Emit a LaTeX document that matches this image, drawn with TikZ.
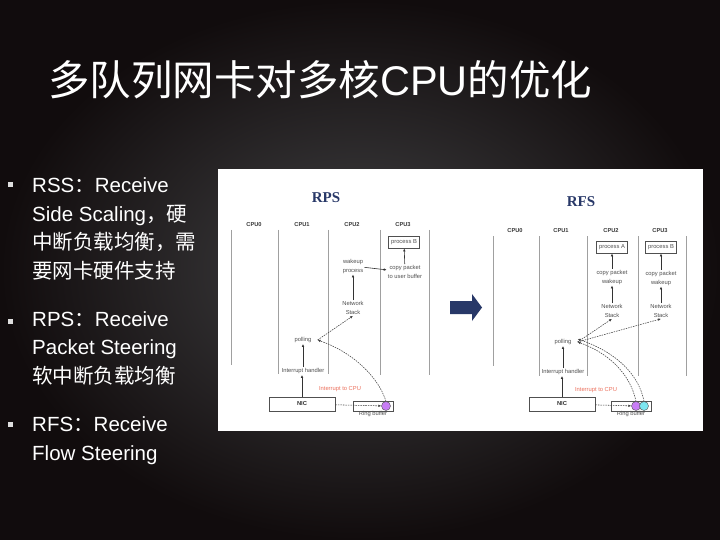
\documentclass[tikz,border=0pt]{standalone}
\usepackage{fontspec}
\setmainfont{Liberation Sans}
\newfontfamily\cjk{Noto Sans CJK SC}
\newfontfamily\rmbold{Liberation Serif}
\usetikzlibrary{arrows.meta,positioning}
\definecolor{slDark}  {RGB}{ 17, 12, 13}
\definecolor{slGrey}  {RGB}{ 66, 66, 68}
\definecolor{slDot}   {RGB}{222,222,222}
\definecolor{dgNavy}  {RGB}{ 40, 56,104}
\definecolor{dgText}  {RGB}{ 80, 80, 80}
\definecolor{dgLine}  {RGB}{160,160,160}
\definecolor{dgRed}   {RGB}{236,112, 92}
\definecolor{dgPink}  {RGB}{200,125,245}
\definecolor{dgCyan}  {RGB}{125,230,240}

\begin{document}
\begin{tikzpicture}[x=1pt,y=-1pt,
  >={Latex[length=3pt,width=2.6pt]},
  title/.style={font=\fontsize{41.5}{45}\selectfont,text=white,
                inner sep=0pt,anchor=base west},
  item/.style={font=\fontsize{20.5}{28.5}\selectfont,text=white,
               inner sep=0pt,align=left,anchor=base west},
  dot/.style={fill=slDot,minimum size=4.5pt,inner sep=0pt},
  head/.style={font=\rmbold\bfseries\fontsize{15}{15}\selectfont,text=dgNavy},
  cpu/.style={font=\bfseries\fontsize{5.7}{6}\selectfont,text=dgText!70!black},
  col/.style={draw=dgLine,line width=1pt},
  lbl/.style={font=\fontsize{5.8}{9}\selectfont,text=dgText,align=center,
              inner sep=1pt},
  pbox/.style={lbl,draw=dgText,line width=0.8pt,minimum width=31pt,
               minimum height=12pt,inner sep=0.5pt},
  nic/.style={draw=dgText,line width=0.7pt,minimum width=66pt,
              minimum height=14pt,inner sep=0pt,text=dgText!60!black,
              font=\bfseries\fontsize{5.8}{6}\selectfont},
  ring/.style={draw=dgText,line width=0.7pt,minimum width=40pt,
               minimum height=10pt,inner sep=0pt},
  pkt/.style={circle,draw=dgText,line width=0.4pt,minimum size=9pt,
              inner sep=0pt},
  flow/.style={->,draw=black!80,line width=0.6pt},
  hop/.style={->,draw=black!75,dash pattern=on 1.5pt off 1pt,
              line width=0.55pt}
]
\useasboundingbox (0,0) rectangle (720,540);
\shade[inner color=slGrey,outer color=slDark] (0,0) rectangle (720,540);

% title and bullets (base = last line)
\node[title] (ttl) at (48,96) {{\cjk 多队列网卡对多核}CPU{\cjk 的优化}};

\node[dot] (b1) at (10.5,184.5) {};
\node[item] (rss) at (32,278)
  {RSS{\cjk ：}Receive\\Side Scaling{\cjk ，硬}\\{\cjk 中断负载均衡，需}\\{\cjk 要网卡硬件支持}};
\node[dot] (b2) at (10.5,321.5) {};
\node[item] (rps) at (32,383)
  {RPS{\cjk ：}Receive\\Packet Steering\\{\cjk 软中断负载均衡}};
\node[dot] (b3) at (10.5,424.5) {};
\node[item] (rfs) at (32,460)
  {RFS{\cjk ：}Receive\\Flow Steering};

% screenshot panel
\fill[white] (217.5,169) rectangle (703,431);

% --- RPS ---
\node[head] (hRps) at (326,198) {RPS};
\node[cpu] at (254,225) {CPU0};
\node[cpu] at (302,225) {CPU1};
\node[cpu] at (352,225) {CPU2};
\node[cpu] at (403,225) {CPU3};
\draw[col] (231,230) -- (231,365);
\draw[col] (278,230) -- (278,374);
\draw[col] (328,230) -- (328,374);
\draw[col] (380,230) -- (380,375);
\draw[col] (429,230) -- (429,375);

\node[pbox]  (procB) at (404,242) {process B};
\node[lbl]   (copy)  at (405,272) {copy packet\\to user buffer};
\node[lbl]   (wake)  at (353,266) {wakeup\\process};
\node[lbl]   (stack) at (353,308) {Network\\Stack};
\node[lbl]   (poll)  at (303,340) {polling};
\node[lbl]   (irq)   at (303,371) {Interrupt handler};
\node[lbl,text=dgRed] (toCpu) at (340,389) {Interrupt to CPU};
\node[nic]   (nic)   at (302,404) {NIC};
\node[ring]  (ring)  at (373,406) {};
\node[pkt,fill=dgPink] (pktA) at (386,406) {};
\node[lbl,below=-1pt of ring] (ringL) {Ring buffer};
\coordinate[right=5pt of poll] (pollR);

\draw[flow] (nic) -- (nic |- irq.south);
\draw[flow] (irq) -- (poll);
\draw[flow] (stack) -- (wake);
\draw[flow] (wake) -- (copy);
\draw[flow] (copy) -- (procB);
\draw[hop]  (nic) -- (pktA);
\draw[hop]  (pktA.north) .. controls (378,376) and (352,352) .. (pollR);
\draw[hop]  (pollR) -- (stack.south);

% arrow between
\fill[dgNavy] (450,301) -- (472,301) -- (472,294) -- (482,307.5)
  -- (472,321) -- (472,314) -- (450,314) -- cycle;

% --- RFS ---
\node[head] (hRfs) at (581,202) {RFS};
\node[cpu] at (515,231) {CPU0};
\node[cpu] at (561,231) {CPU1};
\node[cpu] at (611,231) {CPU2};
\node[cpu] at (660,231) {CPU3};
\draw[col] (493,236) -- (493,366);
\draw[col] (539,236) -- (539,376);
\draw[col] (587,236) -- (587,376);
\draw[col] (638,236) -- (638,376);
\draw[col] (686,236) -- (686,376);

\node[pbox]  (procA2) at (612,247) {process A};
\node[pbox]  (procB2) at (661,247) {process B};
\node[lbl]   (wakeA)  at (612,277) {copy packet\\wakeup};
\node[lbl]   (wakeB)  at (661,278) {copy packet\\wakeup};
\node[lbl]   (stackA) at (612,311) {Network\\Stack};
\node[lbl]   (stackB) at (661,311) {Network\\Stack};
\node[lbl]   (poll2)  at (563,342) {polling};
\node[lbl]   (irq2)   at (563,372) {Interrupt handler};
\node[lbl,text=dgRed] (toCpu2) at (596,390) {Interrupt to CPU};
\node[nic]   (nic2)   at (562,404) {NIC};
\node[ring]  (ring2)  at (631,406) {};
\node[pkt,fill=dgPink] (pktB) at (636,406) {};
\node[pkt,fill=dgCyan] (pktC) at (644,406) {};
\node[lbl,below=-1pt of ring2] (ringL2) {Ring buffer};
\coordinate[right=5pt of poll2] (pollR2);

\draw[flow] (nic2) -- (nic2 |- irq2.south);
\draw[flow] (irq2) -- (poll2);
\draw[flow] (stackA) -- (wakeA);
\draw[flow] (wakeA) -- (procA2);
\draw[flow] (stackB) -- (wakeB);
\draw[flow] (wakeB) -- (procB2);
\draw[hop]  (nic2) -- (pktB);
\draw[hop]  (pktB.north) .. controls (630,372) and (606,352) .. (pollR2);
\draw[hop]  (pktC.north) .. controls (638,370) and (610,350) .. ([yshift=3pt]pollR2);
\draw[hop]  (pollR2) -- (stackA.south);
\draw[hop]  (pollR2) -- (stackB.south);
\end{tikzpicture}
\end{document}
